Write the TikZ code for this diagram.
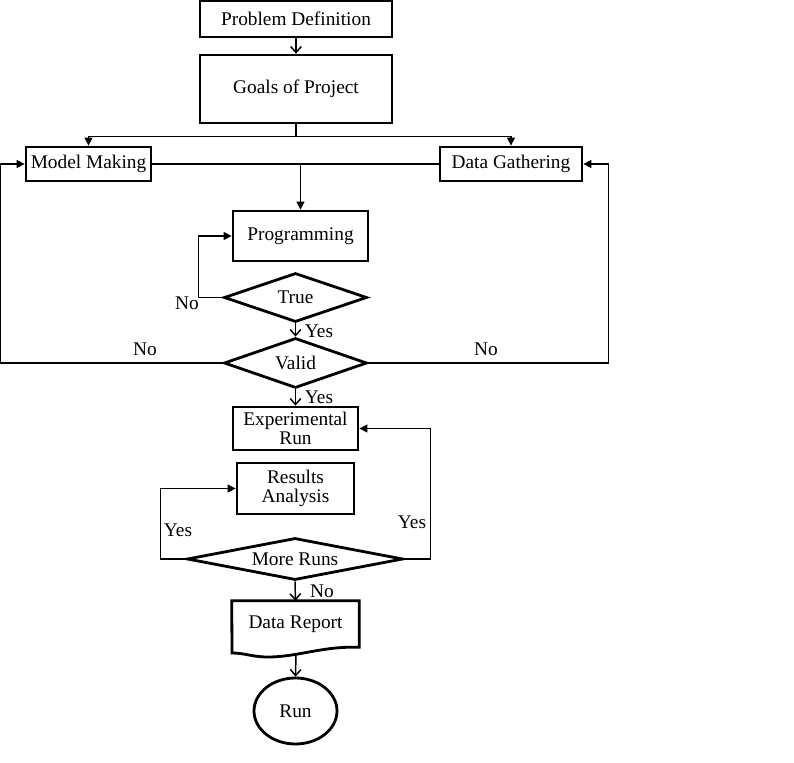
\documentclass[tikz,border=0pt]{standalone}
\usepackage{fontspec}
\setmainfont{Liberation Serif}
\usetikzlibrary{shapes.geometric,arrows.meta}
\begin{document}
\begin{tikzpicture}[x=0.75pt,y=-0.75pt,
  txt/.style={font=\fontsize{14.5}{15}\selectfont},
  box/.style={txt, draw, line width=2.1pt, inner sep=0pt},
  dia/.style={txt, draw, diamond, line width=2.1pt, inner sep=0pt},
  lbl/.style={txt, inner sep=0pt},
  conn/.style={line width=1.1pt},
  farr/.style={conn, -{Triangle[length=6pt,width=6pt]}},
  oarr/.style={conn, -{Straight Barb[length=4.5pt,width=8pt]}},
]
\useasboundingbox (0,0) rectangle (794,763);

\node[box, line width=1.8pt, minimum width=144pt, minimum height=27pt] (pd) at (296,19) {Problem Definition};
\node[box, minimum width=144pt, minimum height=51pt] (goals) at (296,89) {Goals of Project};
\node[box, minimum width=93.75pt, minimum height=25.5pt] (mm) at (88.5,164) {Model Making};
\node[box, minimum width=106.5pt, minimum height=25.5pt] (dg) at (511,164) {Data Gathering};
\node[box, minimum width=101.25pt, minimum height=37.5pt] (prog) at (300.5,236) {Programming};
\node[dia, aspect=2.9, minimum width=107.25pt, minimum height=36.75pt] (true) at (295.5,297.5) {True};
\node[dia, aspect=2.9, minimum width=107.25pt, minimum height=37.5pt] (valid) at (295.5,363) {Valid};
\node[box, minimum width=93.75pt, minimum height=32.25pt, align=center, font=\fontsize{14.5}{14}\selectfont] (exp) at (295.5,428.5) {Experimental\\Run};
\node[box, minimum width=87.75pt, minimum height=38.25pt, align=center, font=\fontsize{14.5}{14.5}\selectfont] (res) at (295.5,488.5) {Results\\Analysis};
\node[dia, aspect=5.1, minimum width=162pt, minimum height=31.5pt] (more) at (295,559) {More Runs};
\node[txt, inner sep=0pt, minimum width=95.25pt, minimum height=34.5pt] (dr) at (295.5,624) {Data Report};
\coordinate (drdip) at (268,657);
\coordinate (drbl) at (232,653);
\draw[line width=2.1pt] (dr.north west) -- (dr.north east) -- (dr.south east)
  .. controls (322,646) and (298,657) .. (drdip)
  .. controls (252,657) and (245,653) .. (drbl) -- cycle;
\coordinate (drb) at (296,654);
\node[txt, draw, ellipse, line width=2.1pt, inner sep=0pt, minimum width=62.25pt, minimum height=49.5pt] (run) at (295.5,711) {Run};

% connectors
\draw[oarr] (pd.south) -- (goals.north);
\draw[farr] (goals.south) -- ++(0,12) -| (mm.north);
\draw[farr] (goals.south) -- ++(0,12) -| (dg.north);
\draw[conn] (mm.east) -- (dg.west);
\draw[farr] (prog.north |- mm.east) -- (prog.north);
\draw[farr] (true.west) -- ++(-24,0) |- (prog.west);
\draw[oarr] (true.south) -- (valid.north);
\draw[farr] (valid.west) -- ++(-222,0) |- (mm.west);
\draw[farr] (valid.east) -- ++(240,0) |- (dg.east);
\draw[oarr] (valid.south) -- (exp.north);
\draw[farr] (more.west) -- ++(-25,0) |- (res.west);
\draw[farr] (more.east) -- ++(26,0) |- (exp.east);
\draw[oarr] (more.south) -- (dr.north);
\draw[oarr] (drb) -- (run.north);

% labels
\node[lbl] (l1) at (187,303) {No};
\node[lbl] (l2) at (319,331) {Yes};
\node[lbl] (l3) at (145,349) {No};
\node[lbl] (l4) at (486,349) {No};
\node[lbl] (l5) at (319,397) {Yes};
\node[lbl] (l6) at (178,530) {Yes};
\node[lbl] (l7) at (412,522) {Yes};
\node[lbl] (l8) at (322,591) {No};
\end{tikzpicture}
\end{document}
